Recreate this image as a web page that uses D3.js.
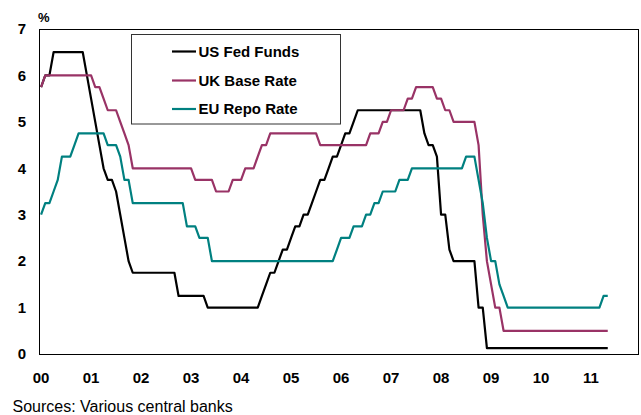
<!DOCTYPE html>
<html>
<head>
<meta charset="utf-8">
<script src="https://cdn.jsdelivr.net/npm/d3@7/dist/d3.min.js"></script>
<style>
html,body{margin:0;padding:0;background:#fff;}
svg{display:block;font-family:"Liberation Sans",Arial,sans-serif;}
</style>
</head>
<body>
<svg id="chart" width="641" height="415"></svg>
<script>
// Monthly policy rates, Jan 2000 - May 2011 (%)
const usFedFunds = [
  5.75,6.0,6.0,6.5,6.5,6.5,6.5,6.5,6.5,6.5,6.5,6.0,          // 2000
  5.5,5.0,4.5,4.0,3.75,3.75,3.5,3.0,2.5,2.0,1.75,1.75,       // 2001
  1.75,1.75,1.75,1.75,1.75,1.75,1.75,1.75,1.75,1.25,1.25,1.25, // 2002
  1.25,1.25,1.25,1.25,1.0,1.0,1.0,1.0,1.0,1.0,1.0,1.0,        // 2003
  1.0,1.0,1.0,1.0,1.0,1.25,1.5,1.75,1.75,2.0,2.25,2.25,       // 2004
  2.5,2.75,2.75,3.0,3.0,3.25,3.5,3.75,3.75,4.0,4.25,4.25,     // 2005
  4.5,4.75,4.75,5.0,5.25,5.25,5.25,5.25,5.25,5.25,5.25,5.25,  // 2006
  5.25,5.25,5.25,5.25,5.25,5.25,5.25,5.25,4.75,4.5,4.5,4.25,  // 2007
  3.0,3.0,2.25,2.0,2.0,2.0,2.0,2.0,2.0,1.0,1.0,0.125,         // 2008
  0.125,0.125,0.125,0.125,0.125,0.125,0.125,0.125,0.125,0.125,0.125,0.125, // 2009
  0.125,0.125,0.125,0.125,0.125,0.125,0.125,0.125,0.125,0.125,0.125,0.125, // 2010
  0.125,0.125,0.125,0.125,0.125                               // 2011
];
const ukBaseRate = [
  5.75,6.0,6.0,6.0,6.0,6.0,6.0,6.0,6.0,6.0,6.0,6.0,
  6.0,5.75,5.75,5.5,5.25,5.25,5.25,5.0,4.75,4.5,4.0,4.0,
  4.0,4.0,4.0,4.0,4.0,4.0,4.0,4.0,4.0,4.0,4.0,4.0,
  4.0,3.75,3.75,3.75,3.75,3.75,3.5,3.5,3.5,3.5,3.75,3.75,
  3.75,4.0,4.0,4.0,4.25,4.5,4.5,4.75,4.75,4.75,4.75,4.75,
  4.75,4.75,4.75,4.75,4.75,4.75,4.75,4.5,4.5,4.5,4.5,4.5,
  4.5,4.5,4.5,4.5,4.5,4.5,4.5,4.75,4.75,4.75,5.0,5.0,
  5.25,5.25,5.25,5.25,5.5,5.5,5.75,5.75,5.75,5.75,5.75,5.5,
  5.5,5.25,5.25,5.0,5.0,5.0,5.0,5.0,5.0,4.5,3.0,2.0,
  1.5,1.0,1.0,0.5,0.5,0.5,0.5,0.5,0.5,0.5,0.5,0.5,
  0.5,0.5,0.5,0.5,0.5,0.5,0.5,0.5,0.5,0.5,0.5,0.5,
  0.5,0.5,0.5,0.5,0.5
];
const euRepoRate = [
  3.0,3.25,3.25,3.5,3.75,4.25,4.25,4.25,4.5,4.75,4.75,4.75,
  4.75,4.75,4.75,4.75,4.5,4.5,4.5,4.25,3.75,3.75,3.25,3.25,
  3.25,3.25,3.25,3.25,3.25,3.25,3.25,3.25,3.25,3.25,3.25,2.75,
  2.75,2.75,2.5,2.5,2.5,2.0,2.0,2.0,2.0,2.0,2.0,2.0,
  2.0,2.0,2.0,2.0,2.0,2.0,2.0,2.0,2.0,2.0,2.0,2.0,
  2.0,2.0,2.0,2.0,2.0,2.0,2.0,2.0,2.0,2.0,2.0,2.25,
  2.5,2.5,2.5,2.75,2.75,2.75,3.0,3.0,3.25,3.25,3.5,3.5,
  3.5,3.5,3.75,3.75,3.75,4.0,4.0,4.0,4.0,4.0,4.0,4.0,
  4.0,4.0,4.0,4.0,4.0,4.0,4.25,4.25,4.25,3.75,3.25,2.5,
  2.0,2.0,1.5,1.25,1.0,1.0,1.0,1.0,1.0,1.0,1.0,1.0,
  1.0,1.0,1.0,1.0,1.0,1.0,1.0,1.0,1.0,1.0,1.0,1.0,
  1.0,1.0,1.0,1.25,1.25
];
const seriesNames = ["US Fed Funds","UK Base Rate","EU Repo Rate"];
const seriesColors = ["#000000","#993366","#008080"];
const yearLabels = ["00","01","02","03","04","05","06","07","08","09","10","11"];
const yTicks = [0,1,2,3,4,5,6,7];
const sourceText = "Sources: Various central banks";

const svg = d3.select("#chart");
const L = 39, R = 639, T = 29, B = 354;
const x = d3.scaleLinear().domain([0, 144]).range([L, R]);
const y = d3.scaleLinear().domain([0, 7]).range([B, T]);

// frame
svg.append("rect").attr("x", L + 0.5).attr("y", T + 0.5)
  .attr("width", R - L - 1).attr("height", B - T)
  .attr("fill", "none").attr("stroke", "#000").attr("stroke-width", 1);

// y axis
const ya = svg.append("g").attr("transform", `translate(${L},0)`)
  .call(d3.axisLeft(y).tickValues(yTicks).tickSize(0).tickPadding(13).tickFormat(d3.format("d")));
ya.select(".domain").remove();
ya.selectAll("text").attr("font-size", 15).attr("font-weight", "bold")
  .attr("font-family", "Liberation Sans, Arial, sans-serif").attr("fill", "#000");

// x axis
const xa = svg.append("g").attr("transform", `translate(1.5,${B})`)
  .call(d3.axisBottom(x).tickValues(yearLabels.map((d, i) => i * 12))
    .tickFormat((d, i) => yearLabels[i]).tickSize(0).tickPadding(18.5));
xa.select(".domain").remove();
xa.selectAll("text").attr("font-size", 15).attr("font-weight", "bold")
  .attr("font-family", "Liberation Sans, Arial, sans-serif").attr("fill", "#000");

// % unit
svg.append("text").attr("x", 38).attr("y", 22).attr("font-size", 13)
  .attr("font-weight", "bold").text("%");

// lines
const line = d3.line().x((d, i) => x(i + 0.5)).y(d => y(d));
[usFedFunds, ukBaseRate, euRepoRate].forEach((s, k) => {
  svg.append("path").datum(s).attr("d", line).attr("fill", "none")
    .attr("stroke", seriesColors[k]).attr("stroke-width", 2.2)
    .attr("stroke-linejoin", "round");
});

// legend
const lg = svg.append("g");
lg.append("rect").attr("x", 131.5).attr("y", 34.5).attr("width", 209).attr("height", 89.5)
  .attr("fill", "#fff").attr("stroke", "#333").attr("stroke-width", 1);
const rowY = [51.5, 80.5, 109];
seriesNames.forEach((n, k) => {
  lg.append("line").attr("x1", 172).attr("x2", 196).attr("y1", rowY[k]).attr("y2", rowY[k])
    .attr("stroke", seriesColors[k]).attr("stroke-width", 2.2);
  lg.append("text").attr("x", 198.5).attr("y", rowY[k]).attr("dy", "0.36em")
    .attr("font-size", 15).attr("font-weight", "bold").text(n);
});

// source
svg.append("text").attr("x", 12.5).attr("y", 411.5).attr("font-size", 16).text(sourceText);
</script>
</body>
</html>
